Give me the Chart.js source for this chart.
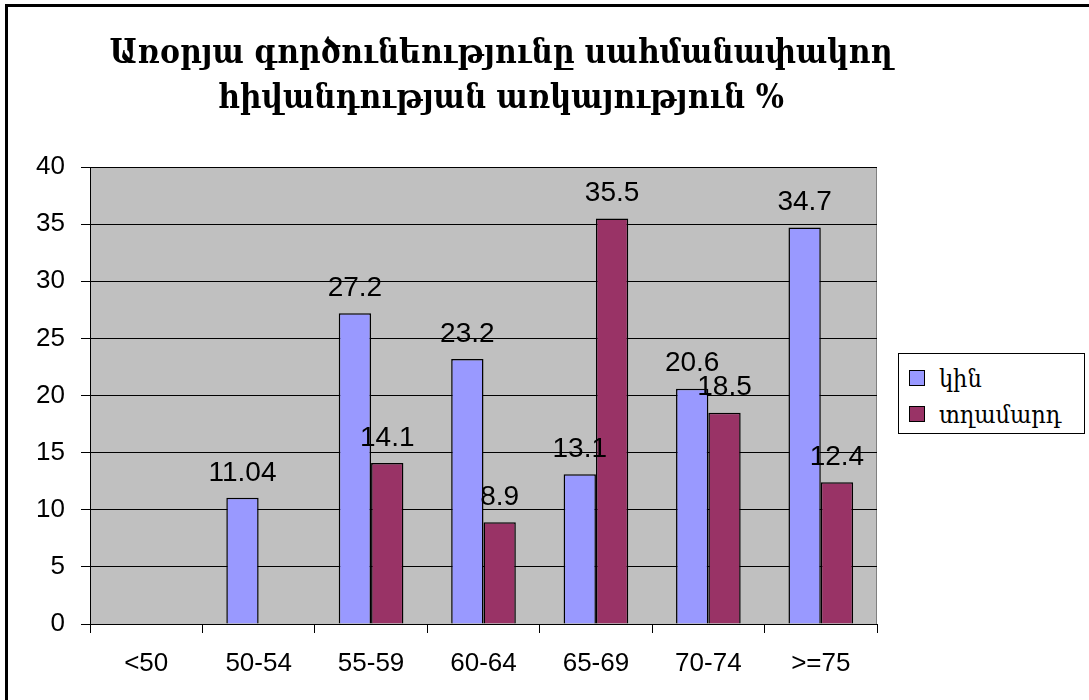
<!DOCTYPE html>
<html>
<head>
<meta charset="utf-8">
<script src="https://cdn.jsdelivr.net/npm/chart.js@4.4.1/dist/chart.umd.min.js"></script>
<style>
    html, body { margin: 0; padding: 0; background: #fff; overflow: hidden; }
    #wrap { position: relative; width: 1089px; height: 700px; }
    #frame {
        position: absolute; left: 5px; top: 4px; width: 1200px; height: 800px;
        border-top: 3px solid #000; border-left: 3px solid #000;
    }
    #chart { position: absolute; left: 0; top: 0; }
    #legend {
        position: absolute; left: 898px; top: 353px; width: 187px; height: 81px;
        border: 1px solid #000; background: #fff; box-sizing: border-box;
        font-family: "DejaVu Serif Condensed", "DejaVu Serif", serif; font-size: 25px; color: #000;
        padding-top: 6px;
    }
    #legend .item { display: flex; align-items: center; height: 36px; padding-left: 10px; }
    #legend .box { width: 14px; height: 14px; border: 1px solid #000; margin-right: 14px; flex: none; }
</style>
</head>
<body>
<div id="wrap">
    <div id="frame"></div>
    <canvas id="chart" width="1089" height="700"></canvas>
    <div id="legend"></div>
</div>
<script>
const titleLines = ["Առօրյա գործունեությունը սահմանափակող", "հիվանդության առկայություն %"];
const categories = ["<50", "50-54", "55-59", "60-64", "65-69", "70-74", ">=75"];
const seriesNames = ["կին", "տղամարդ"];
const womenValues = [null, 11.04, 27.2, 23.2, 13.1, 20.6, 34.7];
const menValues = [null, null, 14.1, 8.9, 35.5, 18.5, 12.4];
const seriesColors = ["#9999FF", "#993366"];

// grey plot background + right edge
const plotBackground = {
    id: "plotBackground",
    beforeDraw(chart) {
        const { ctx, chartArea: a } = chart;
        ctx.save();
        ctx.fillStyle = "#C0C0C0";
        ctx.fillRect(a.left, a.top, a.right - a.left, a.bottom - a.top);
        ctx.strokeStyle = "#808080";
        ctx.lineWidth = 1;
        ctx.beginPath();
        ctx.moveTo(a.right - 0.5, a.top);
        ctx.lineTo(a.right - 0.5, a.bottom);
        ctx.stroke();
        ctx.restore();
    },
};

// value labels above each bar
const valueLabels = {
    id: "valueLabels",
    afterDatasetsDraw(chart) {
        const ctx = chart.ctx;
        ctx.save();
        ctx.fillStyle = "#000";
        ctx.font = "28px 'Liberation Sans', Arial, sans-serif";
        ctx.textAlign = "center";
        ctx.textBaseline = "middle";
        chart.data.datasets.forEach((ds, i) => {
            chart.getDatasetMeta(i).data.forEach((bar, j) => {
                const v = ds.data[j];
                if (v === null) return;
                ctx.fillText(String(v), bar.x, bar.y - 25);
            });
        });
        ctx.restore();
    },
};

// title centred over plot + legend
const armTitle = {
    id: "armTitle",
    afterDraw(chart) {
        const ctx = chart.ctx;
        ctx.save();
        ctx.fillStyle = "#000";
        ctx.font = "bold 33px 'DejaVu Serif Condensed', 'DejaVu Serif', serif";
        ctx.textAlign = "center";
        ctx.textBaseline = "alphabetic";
        ctx.fillText(titleLines[0], 501, 63);
        ctx.fillText(titleLines[1], 501, 108);
        ctx.restore();
    },
};

const tickFont = { family: "'Liberation Sans', Arial, sans-serif", size: 26 };

const chart = new Chart(document.getElementById("chart"), {
    type: "bar",
    data: {
        labels: categories,
        datasets: [
            {
                label: seriesNames[0],
                data: womenValues,
                backgroundColor: seriesColors[0],
                borderColor: "#000",
                borderWidth: 1.5,
            },
            {
                label: seriesNames[1],
                data: menValues,
                backgroundColor: seriesColors[1],
                borderColor: "#000",
                borderWidth: 1.5,
            },
        ],
    },
    plugins: [plotBackground, valueLabels, armTitle],
    options: {
        responsive: false,
        animation: false,
        layout: { padding: { top: 167, right: 212, left: 0, bottom: 0 } },
        datasets: { bar: { categoryPercentage: 0.575, barPercentage: 1 } },
        plugins: {
            legend: { display: false },
            title: { display: false },
            tooltip: { enabled: false },
        },
        scales: {
            x: {
                offset: true,
                grid: { offset: true, drawOnChartArea: false, color: "#000", tickLength: 9 },
                border: { color: "#000", width: 1 },
                ticks: { color: "#000", font: tickFont, padding: 15, maxRotation: 0, autoSkip: false },
                afterFit(scale) { scale.height = 76; },
            },
            y: {
                min: 0,
                max: 40,
                ticks: { stepSize: 5, color: "#000", font: tickFont, padding: 16 },
                grid: { color: "#000", tickLength: 9 },
                border: { color: "#000", width: 1 },
                afterFit(scale) { scale.width = 90; },
            },
        },
    },
});

// legend built from the chart's datasets
const legendEl = document.getElementById("legend");
chart.data.datasets.forEach((ds) => {
    const item = document.createElement("div");
    item.className = "item";
    const box = document.createElement("span");
    box.className = "box";
    box.style.background = ds.backgroundColor;
    const text = document.createElement("span");
    text.textContent = ds.label;
    item.appendChild(box);
    item.appendChild(text);
    legendEl.appendChild(item);
});
</script>
</body>
</html>
